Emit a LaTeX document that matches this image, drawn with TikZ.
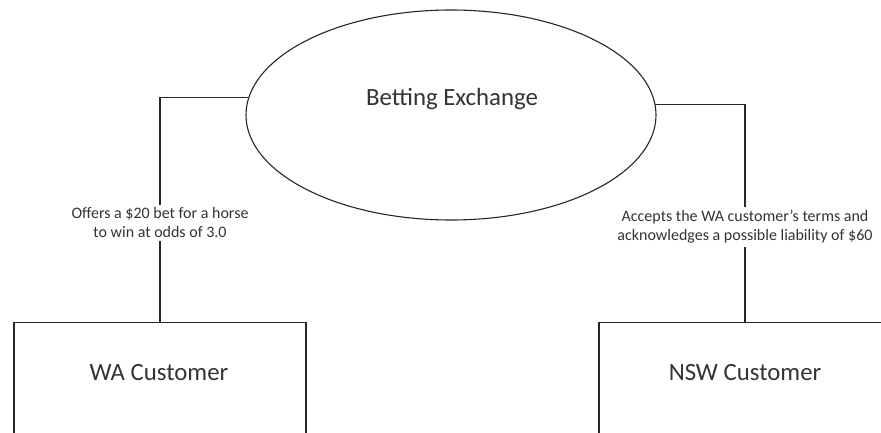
\documentclass[tikz,border=0pt]{standalone}
\usepackage{fontspec}
\setmainfont{Carlito}
\usetikzlibrary{shapes.geometric}
\begin{document}
\begin{tikzpicture}[x=1pt,y=-1pt,
  line width=1.1pt,
  every node/.style={text=black!80},
  bigtext/.style={font=\fontsize{24.8}{29}\selectfont},
  smalltext/.style={font=\fontsize{16}{19}\selectfont, align=center, inner sep=2.5pt},
  boxshape/.style={draw=black!85, minimum width=292pt, minimum height=200pt, inner sep=0pt},
  conn/.style={draw=black!85, line width=1.1pt}]
\useasboundingbox (0,0) rectangle (881,433);
\clip (0,0) rectangle (881,433);
\node[ellipse, draw=black!85, minimum width=410pt, minimum height=210pt, inner sep=0pt] (ex) at (451,115) {};
\node[bigtext] (ext) at (452,99) {Betting Exchange};
\node[boxshape, anchor=north] (wa) at (160,322) {};
\node[bigtext] (wat) at (159,373) {WA Customer};
\node[boxshape, anchor=north] (nsw) at (745,322) {};
\node[bigtext] (nswt) at (745,373) {NSW Customer};
\node[smalltext] (l1) at (160,223) {Offers a \$20 bet for a horse\\to win at odds of 3.0};
\node[smalltext] (l2) at (745,227) {Accepts the WA customer’s terms and\\acknowledges a possible liability of \$60};
\draw[conn] (ex.175.2) -| (l1.north);
\draw[conn] (l1.south) -- (wa.north);
\draw[conn] (ex.3.6) -| (l2.north);
\draw[conn] (l2.south) -- (nsw.north);
\end{tikzpicture}
\end{document}
